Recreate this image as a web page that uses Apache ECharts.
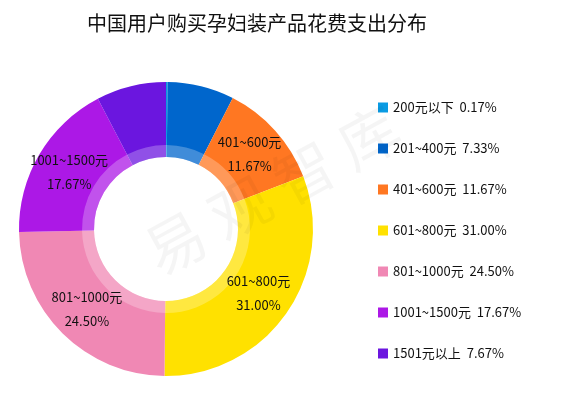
<!DOCTYPE html>
<html>
<head>
<meta charset="utf-8">
<script src="https://cdn.jsdelivr.net/npm/echarts@6/dist/echarts.min.js"></script>
<style>
    html, body { margin: 0; padding: 0; background: #fff; }
    #main { width: 568px; height: 399px; }
</style>
</head>
<body>
<div id="main"></div>
<script>
// 花费区间
const names = ['200元以下', '201~400元', '401~600元', '601~800元', '801~1000元', '1001~1500元', '1501元以上'];
// 占比 (%)
const values = [0.17, 7.33, 11.67, 31.00, 24.50, 17.67, 7.67];
const colors = ['#0a9be3', '#0066cc', '#ff7722', '#ffe100', '#f088b4', '#ac18e6', '#6b16df'];
// 只在大扇区上显示标签
const showLabel = ['401~600元', '601~800元', '801~1000元', '1001~1500元'];

const font = '"Noto Sans CJK SC", "Microsoft YaHei", sans-serif';

const pieData = names.map((n, i) => ({
    name: n,
    value: values[i],
    label: { show: showLabel.indexOf(n) >= 0 }
}));

const chart = echarts.init(document.getElementById('main'));
chart.setOption({
    animation: false,
    color: colors,
    textStyle: { fontFamily: font },
    title: {
        text: '中国用户购买孕妇装产品花费支出分布',
        left: 82,
        top: 8,
        textStyle: { fontSize: 20, fontWeight: 'normal', color: '#111', fontFamily: font }
    },
    graphic: [{
        type: 'text',
        x: 272,
        y: 190,
        rotation: 0.5,
        z: 100,
        silent: true,
        style: {
            text: '易 观 智 库',
            font: '60px ' + font,
            fill: 'rgba(0,0,0,0.04)',
            align: 'center',
            verticalAlign: 'middle'
        }
    }],
    legend: {
        orient: 'vertical',
        left: 373,
        top: 96,
        itemWidth: 10,
        itemHeight: 10,
        itemGap: 28,
        icon: 'rect',
        textStyle: { fontSize: 13, color: '#111', fontFamily: font },
        formatter: name => {
            const i = names.indexOf(name);
            return name + '  ' + values[i].toFixed(2) + '%';
        }
    },
    series: [{
        type: 'pie',
        center: [166, 229],
        radius: [72, 147],
        startAngle: 90,
        clockwise: true,
        label: {
            position: 'inner',
            fontSize: 13,
            lineHeight: 24,
            color: '#111',
            fontFamily: font,
            formatter: p => p.name + '\n' + p.value.toFixed(2) + '%'
        },
        labelLine: { show: false },
        data: pieData
    }, {
        // 内圈浅色环
        type: 'pie',
        center: [166, 229],
        radius: [72, 84],
        startAngle: 90,
        silent: true,
        label: { show: false },
        labelLine: { show: false },
        itemStyle: { color: 'rgba(255,255,255,0.25)' },
        data: names.map((n, i) => ({ name: n, value: values[i] }))
    }]
});
</script>
</body>
</html>
